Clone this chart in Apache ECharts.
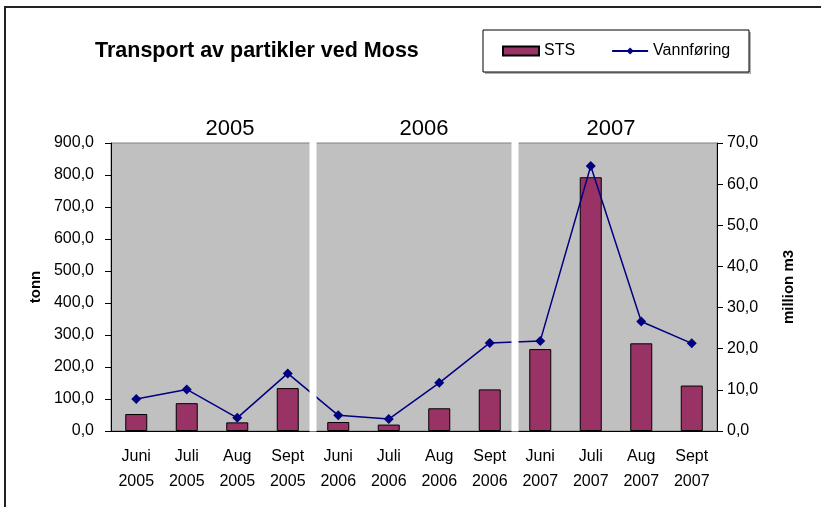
<!DOCTYPE html>
<html>
<head>
<meta charset="utf-8">
<script src="https://cdn.jsdelivr.net/npm/echarts@6/dist/echarts.min.js"></script>
<style>
  html, body { margin: 0; padding: 0; background: #fff; }
  #chart { width: 821px; height: 507px; }
</style>
</head>
<body>
<div id="chart"></div>
<script>
// data
const categories = [
  'Juni\n2005', 'Juli\n2005', 'Aug\n2005', 'Sept\n2005',
  'Juni\n2006', 'Juli\n2006', 'Aug\n2006', 'Sept\n2006',
  'Juni\n2007', 'Juli\n2007', 'Aug\n2007', 'Sept\n2007'
]
const sts = [53, 87, 27, 134, 28, 20, 71, 130, 256, 793, 274, 142]
const vannforing = [7.8, 10.1, 3.2, 14.0, 3.8, 2.9, 11.7, 21.4, 21.9, 64.4, 26.6, 21.3]
const years = ['2005', '2006', '2007']
const yearCenters = [230, 424, 611]   // year captions sit freely above each block
const tonnAxis = { min: 0, max: 900, interval: 100 }
const m3Axis = { min: 0, max: 70, interval: 10 }

const FONT = '"Liberation Sans", Arial, sans-serif'
const fmt = v => v.toFixed(1).replace('.', ',')

const chart = echarts.init(document.getElementById('chart'))

const staticGraphics = [
  {
    id: 'frame', type: 'rect', silent: true, z: 0,
    shape: { x: 5, y: 7, width: 830, height: 510 },
    style: { fill: 'none', stroke: '#222', lineWidth: 2 }
  },
  {
    id: 'legendShadow', type: 'rect', silent: true, z: 0,
    shape: { x: 485, y: 32, width: 266, height: 42 },
    style: { fill: '#b0b0b0' }
  },
  {
    id: 'legendBox', type: 'rect', silent: true, z: 1,
    shape: { x: 483, y: 30, width: 266, height: 42 },
    style: { fill: '#fff', stroke: '#000', lineWidth: 1 }
  }
].concat(years.map((y, i) => ({
  id: 'year' + i, type: 'text', silent: true, z: 100,
  x: yearCenters[i], y: 129,
  style: {
    text: y, fill: '#000', font: '22px ' + FONT,
    textAlign: 'center', textVerticalAlign: 'middle'
  }
})))

chart.setOption({
  animation: false,
  backgroundColor: '#fff',
  title: {
    text: 'Transport av partikler ved Moss',
    left: 95, top: 40, padding: 0,
    textStyle: { fontFamily: FONT, fontSize: 21.5, fontWeight: 'bold', color: '#000' }
  },
  legend: {
    left: 502, top: 43, padding: 0,
    itemWidth: 36, itemHeight: 9, itemGap: 36,
    textStyle: { fontFamily: FONT, fontSize: 16, color: '#000' },
    data: [{ name: 'STS', icon: 'rect' }, { name: 'Vannføring' }],
    z: 10
  },
  grid: {
    left: 111, right: 104, top: 143, bottom: 76,
    show: true, backgroundColor: '#c0c0c0', borderColor: '#808080', borderWidth: 1
  },
  xAxis: [
    {
      type: 'category', data: categories, position: 'bottom',
      axisLine: { lineStyle: { color: '#000', width: 1 } },
      axisTick: { length: 5, lineStyle: { color: '#000' } },
      axisLabel: {
        color: '#000', fontFamily: FONT, fontSize: 16, lineHeight: 25, margin: 13,
        interval: 0
      }
    },
    {
      // only gives the crossing half of the category ticks
      type: 'category', data: categories, position: 'bottom',
      axisLine: { show: false },
      axisTick: { inside: true, length: 6, lineStyle: { color: '#000' } },
      axisLabel: { show: false }
    }
  ],
  yAxis: [
    {
      type: 'value', position: 'left', ...tonnAxis,
      name: 'tonn', nameLocation: 'middle', nameRotate: 90, nameGap: 66,
      nameTextStyle: { fontFamily: FONT, fontSize: 15, fontWeight: 'bold', color: '#000' },
      axisLine: { show: true, lineStyle: { color: '#000' } },
      axisTick: { show: true, length: 6, lineStyle: { color: '#000' } },
      axisLabel: { color: '#000', fontFamily: FONT, fontSize: 16, margin: 17, formatter: fmt },
      splitLine: { show: false }
    },
    {
      type: 'value', position: 'right', ...m3Axis,
      name: 'million m3', nameLocation: 'middle', nameRotate: 90, nameGap: 64,
      nameTextStyle: { fontFamily: FONT, fontSize: 15, fontWeight: 'bold', color: '#000' },
      axisLine: { show: true, lineStyle: { color: '#000' } },
      axisTick: { show: true, length: 6, lineStyle: { color: '#000' } },
      axisLabel: { color: '#000', fontFamily: FONT, fontSize: 16, margin: 10, formatter: fmt },
      splitLine: { show: false }
    }
  ],
  series: [
    {
      name: 'STS', type: 'bar', data: sts, barWidth: 22,
      itemStyle: { color: '#993366', borderColor: '#000', borderWidth: 1 },
      z: 2
    },
    {
      name: 'Vannføring', type: 'line', data: vannforing, yAxisIndex: 1,
      symbol: 'diamond', symbolSize: 10,
      lineStyle: { color: '#000080', width: 1.5 },
      itemStyle: { color: '#000080' },
      z: 3
    }
  ],
  graphic: staticGraphics
})

// white gaps between the year blocks, placed on the category boundaries
function separators() {
  const yTop = chart.convertToPixel({ yAxisIndex: 0 }, tonnAxis.max)
  const yBot = chart.convertToPixel({ yAxisIndex: 0 }, 0)
  const out = []
  for (let k = 4; k < categories.length; k += 4) {
    const a = chart.convertToPixel({ xAxisIndex: 0 }, k - 1)
    const b = chart.convertToPixel({ xAxisIndex: 0 }, k)
    const mid = (a + b) / 2
    out.push({
      id: 'sep' + k, type: 'rect', silent: true, z: 50,
      shape: { x: mid - 3.5, y: yTop - 1, width: 7, height: yBot - yTop + 1.5 },
      style: { fill: '#fff' }
    })
  }
  return out
}

chart.setOption({ graphic: staticGraphics.concat(separators()) })
</script>
</body>
</html>
